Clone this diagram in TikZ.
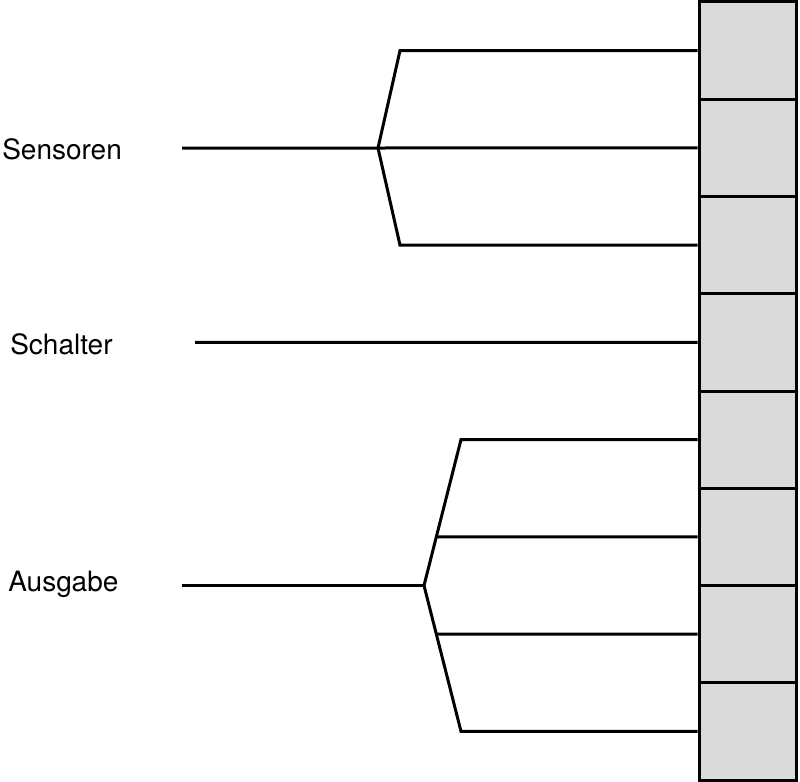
\documentclass[tikz,border=0pt]{standalone}
\usepackage{fontspec}
\setmainfont{TeX Gyre Heros}
\usepackage{tikz}
\usetikzlibrary{calc,positioning}
\definecolor{cellgray}{HTML}{DADADA}

\begin{document}
\begin{tikzpicture}[x=0.75pt,y=-0.75pt,
  cell/.style={draw=black,fill=cellgray,line width=2.25pt,
               minimum width=72.75pt,minimum height=72.94pt,inner sep=0pt},
  lbl/.style={anchor=west,inner sep=0pt,font=\fontsize{21}{24}\selectfont},
  wire/.style={line width=2.25pt,line join=miter}
]
\useasboundingbox (0,0) rectangle (800,782);
% column of terminals
\foreach \i in {1,...,8}
  \node[cell] (c\i) at (747.5,{2+97.25*(\i-0.5)}) {};
% labels
\node[lbl] (sens) at (2,149) {Sensoren};
\node[lbl] (schal) at (10,344) {Schalter};
\node[lbl] (ausg) at (8,584) {Ausgabe};
% Sensoren
\coordinate (s0) at (182,148);
\coordinate (sb) at (378,148);
\coordinate (s1) at (400,50.6);
\coordinate (s3) at (400,245.1);
\draw[wire] (s0) -- (sb) -- (c2.west);
\draw[wire] (sb) -- (s1) -- (c1.west);
\draw[wire] (sb) -- (s3) -- (c3.west);
% Schalter
\coordinate (w0) at (195,342.4);
\draw[wire] (w0) -- (c4.west);
% Ausgabe
\coordinate (a0) at (182,585.5);
\coordinate (ab) at (424,585.5);
\coordinate (a5) at (461,439.6);
\coordinate (a8) at (461,731.4);
\draw[wire] (a0) -- (ab);
\draw[wire] (ab) -- (a5) -- (c5.west);
\draw[wire] (ab) -- (a8) -- (c8.west);
\draw[wire] ($(ab)!1/3!(a5)$) -- (c6.west);
\draw[wire] ($(ab)!1/3!(a8)$) -- (c7.west);
\end{tikzpicture}
\end{document}
